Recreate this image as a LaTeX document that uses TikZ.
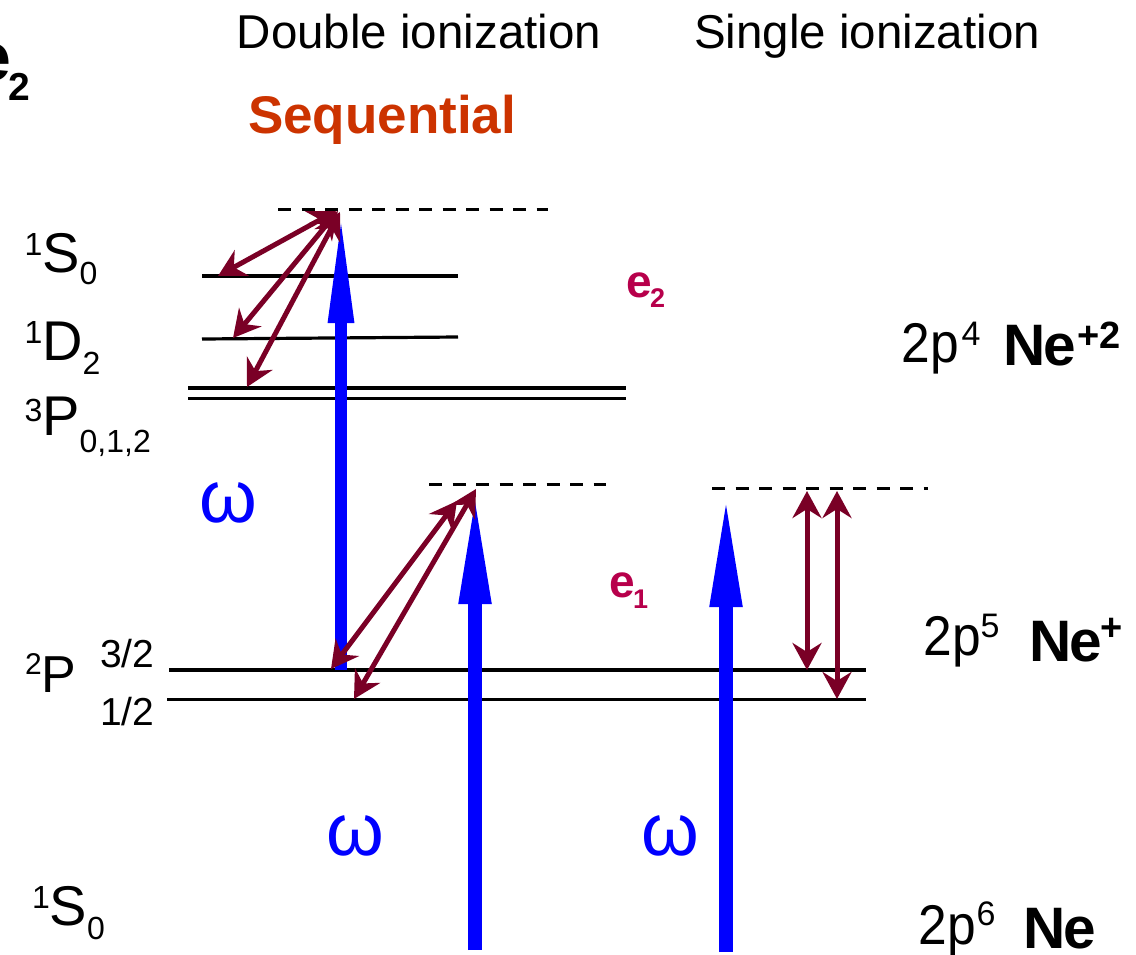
\documentclass[tikz,border=0pt]{standalone}
\usepackage{fontspec}
\setmainfont{Liberation Sans}
\usetikzlibrary{arrows.meta}
\definecolor{pblue}{RGB}{0,0,255}
\definecolor{elcol}{RGB}{122,0,38}
\definecolor{ecol}{RGB}{183,0,75}
\definecolor{seqcol}{RGB}{204,51,0}
\newcommand\fs[1]{\fontsize{#1}{#1}\selectfont}
\newcommand\cfg[1]{\scalebox{0.92}[1]{\fs{56}#1}}
\newcommand\nel{\fs{58.5}\bfseries N\kern-2pt e}
\tikzset{
  txt/.style={inner sep=0pt, outer sep=0pt, anchor=base west},
  lvl/.style={draw=black, line width=3.2pt},
  dsh/.style={draw=black, line width=3pt, dash pattern=on 13pt off 10.5pt},
  phA/.style={draw=pblue, line width=12pt, -{Triangle[length=115pt,width=23pt]}},
  phB/.style={draw=pblue, line width=14pt, -{Triangle[length=115pt,width=29pt]}},
  elec/.style={draw=elcol, line width=5pt,
    {Stealth[length=27pt,width=29pt,inset=9pt]}-{Stealth[length=27pt,width=29pt,inset=9pt]}}
}
\begin{document}
\begin{tikzpicture}[x=1pt,y=-1pt]
\useasboundingbox (0,0) rectangle (1136,954);

% titles
\node[txt, anchor=base] (t1) at (419,48) {\fs{47.5}Double ionization};
\node[txt, anchor=base] (t2) at (867,48) {\fs{47.5}Single ionization};
\node[txt, anchor=base, text=seqcol] (seq) at (382,133) {\fs{53}\bfseries Sequential};

% cut-off label top left
\node[txt] (ecut) at (-26,80) {\fs{68}\bfseries e};
\node[txt] (ecutsub) at (9,100) {\fs{39}\bfseries 2};

% level labels
\node[txt] (lS0) at (24.5,272) {\raisebox{17pt}{\fs{32}1}\fs{56}S\raisebox{-12pt}{\fs{32}0}};
\node[txt] (lD2) at (24.5,360) {\raisebox{17pt}{\fs{32}1}\fs{56}D\raisebox{-14pt}{\fs{32}2}};
\node[txt] (l3P) at (24.5,435) {\raisebox{14pt}{\fs{32}3}\fs{56}P\raisebox{-17pt}{\fs{32}0,1,2}};
\node[txt] (l2P) at (25,692) {\raisebox{18pt}{\fs{30}2}\fs{52}P};
\node[txt] (l32) at (100,667) {\fs{39}3/2};
\node[txt] (l12) at (100,725) {\fs{39}1/2};
\node[txt] (lS0g) at (32,925) {\raisebox{17pt}{\fs{32}1}\fs{56}S\raisebox{-14pt}{\fs{32}0}};

% omegas
\node[txt, anchor=base, text=pblue] (w1) at (228,522) {\fs{74}ω};
\node[txt, anchor=base, text=pblue] (w2) at (355,855) {\fs{74}ω};
\node[txt, anchor=base, text=pblue] (w3) at (670,855) {\fs{74}ω};

% electron labels
\node[txt, text=ecol] (e2) at (626.5,297) {\fs{46}\bfseries e};
\node[txt, text=ecol] (e2s) at (650,307) {\fs{27}\bfseries 2};
\node[txt, text=ecol] (e1) at (609.5,597) {\fs{46}\bfseries e};
\node[txt, text=ecol] (e1s) at (633,608) {\fs{27}\bfseries 1};

% right-side configuration labels
\node[txt] (c4) at (901.5,362) {\cfg{2p}};
\node[txt] (c4s) at (961.5,345) {\fs{34}4};
\node[txt] (ne2) at (1003.7,365) {\nel};
\node[txt] (ne2s) at (1077,348) {\fs{38}\bfseries +2};
\node[txt] (c5) at (923.5,655) {\cfg{2p}};
\node[txt] (c5s) at (980.5,637) {\fs{34}5};
\node[txt] (ne1) at (1029.7,661) {\nel};
\node[txt] (ne1s) at (1100.5,640) {\fs{38}\bfseries +};
\node[txt] (c6) at (918.5,944) {\cfg{2p}};
\node[txt] (c6s) at (976.6,925) {\fs{34}6};
\node[txt] (ne0) at (1023.7,948) {\nel};

% level lines
\coordinate (s0L) at (202,276);   \coordinate (s0R) at (458,276);
\coordinate (d2L) at (202,339);   \coordinate (d2R) at (458,337);
\coordinate (pAL) at (188,388);   \coordinate (pAR) at (626,388);
\coordinate (pBL) at (188,398.5); \coordinate (pBR) at (626,398.5);
\coordinate (p3L) at (169,670);   \coordinate (p3R) at (866,670);
\coordinate (p1L) at (167,699.5); \coordinate (p1R) at (866,699.5);
\draw[lvl] (s0L) -- (s0R);
\draw[lvl] (d2L) -- (d2R);
\draw[lvl] (pAL) -- (pAR);
\draw[lvl] (pBL) -- (pBR);
\draw[lvl] (p3L) -- (p3R);
\draw[lvl] (p1L) -- (p1R);

% virtual (dashed) levels
\coordinate (vtL) at (278,209); \coordinate (vtR) at (548,209);
\coordinate (vmL) at (429,484); \coordinate (vmR) at (606,484);
\coordinate (vrL) at (712,488); \coordinate (vrR) at (928,488);
\draw[dsh] (vtL) -- (vtR);
\draw[dsh] (vmL) -- (vmR);
\draw[dsh] (vrL) -- (vrR);

% photons
\coordinate (b1a) at (341,670); \coordinate (b1b) at (341,208);
\coordinate (b2a) at (475,950); \coordinate (b2b) at (475,489);
\coordinate (b3a) at (726,952); \coordinate (b3b) at (726,492);
\draw[phA] (b1a) -- (b1b);
\draw[phB] (b2a) -- (b2b);
\draw[phB] (b3a) -- (b3b);

% electrons
\coordinate (ra1) at (218,276); \coordinate (ra2) at (336,211);
\coordinate (rb1) at (233,338); \coordinate (rb2) at (338,211);
\coordinate (rc1) at (247,387); \coordinate (rc2) at (340,212);
\coordinate (rd1) at (331,669); \coordinate (rd2) at (457,501);
\coordinate (re1) at (354,699); \coordinate (re2) at (476,489);
\coordinate (rf1) at (807,491); \coordinate (rf2) at (807,670);
\coordinate (rg1) at (837,491); \coordinate (rg2) at (837,699);
\draw[elec] (ra1) -- (ra2);
\draw[elec] (rb1) -- (rb2);
\draw[elec] (rc1) -- (rc2);
\draw[elec] (rd1) -- (rd2);
\draw[elec] (re1) -- (re2);
\draw[elec] (rf1) -- (rf2);
\draw[elec] (rg1) -- (rg2);
\end{tikzpicture}
\end{document}
